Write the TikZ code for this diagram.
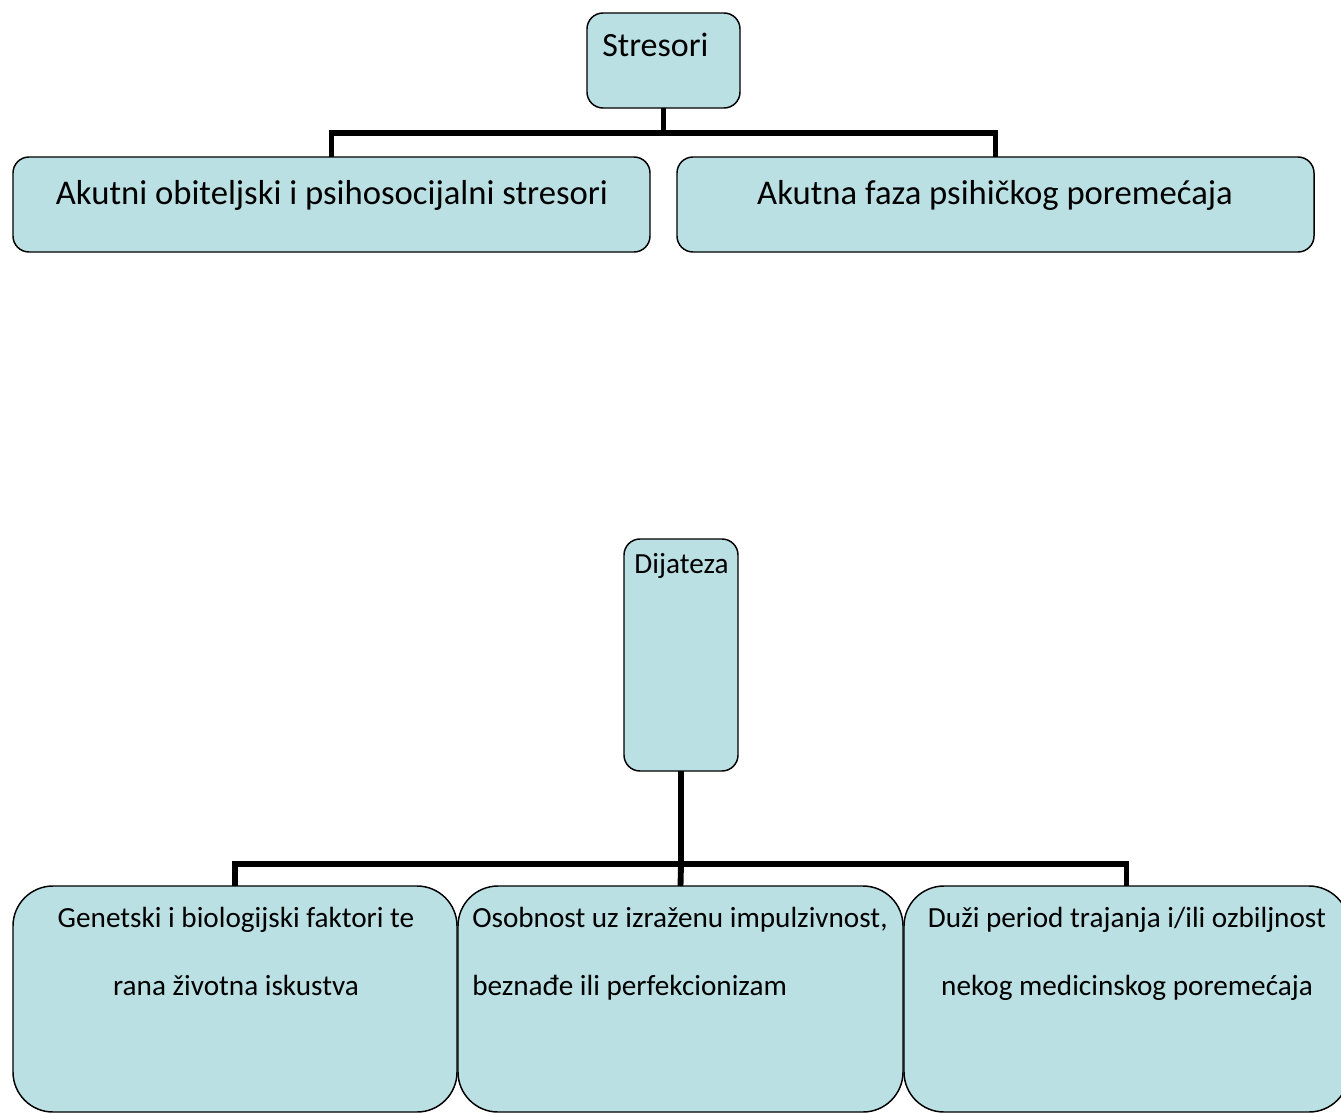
\documentclass[tikz,border=0pt]{standalone}
\usepackage{fontspec}
\setmainfont{Carlito}
\usetikzlibrary{calc}
\definecolor{boxfill}{RGB}{186,224,228}
\tikzset{
  box/.style={draw=black, fill=boxfill, line width=1.1pt, inner sep=0pt, outer sep=0pt},
  smallbox/.style={box, rounded corners=12pt},
  bigbox/.style={box, rounded corners=30pt},
  conn/.style={draw=black, line width=4.4pt, line join=miter},
  bigtxt/.style={font=\fontsize{26}{30}\selectfont, inner sep=0pt},
  stxt/.style={font=\fontsize{25.5}{30}\selectfont, inner sep=0pt},
  smalltxt/.style={font=\fontsize{21.9}{26}\selectfont, inner sep=0pt}
}
\begin{document}
\begin{tikzpicture}[x=0.75pt, y=-0.75pt]
\useasboundingbox (0,0) rectangle (1341,1113);
% top part
\node[smallbox, minimum width=153*0.75pt, minimum height=95*0.75pt] (stres) at (663.5,60.5) {};
\node[smallbox, minimum width=637*0.75pt, minimum height=95*0.75pt] (akut) at (331.5,204.5) {};
\node[smallbox, minimum width=637*0.75pt, minimum height=95*0.75pt] (faza) at (995.5,204.5) {};
\node[stxt, anchor=base west] (tstres) at ($(stres.north west)+(15,43)$) {Stresori};
\node[bigtxt, anchor=base] (takut) at ($(akut.north)+(0.5,47)$) {Akutni obiteljski i psihosocijalni stresori};
\node[bigtxt, anchor=base] (tfaza) at ($(faza.north)+(-0.5,47)$) {Akutna faza psihičkog poremećaja};
\coordinate (j1) at (663.5,133);
\draw[conn] (stres.south) -- (j1);
\draw[conn] (akut.north) |- (j1) -| (faza.north);
% bottom part
\node[smallbox, minimum width=114*0.75pt, minimum height=232*0.75pt] (dij) at (681,655) {};
\node[smalltxt, anchor=base] (tdij) at ($(dij.north)+(0.5,34)$) {Dijateza};
\node[bigbox, minimum width=444*0.75pt, minimum height=226*0.75pt] (g1) at (235,999) {};
\node[bigbox, minimum width=445*0.75pt, minimum height=226*0.75pt] (g2) at (680.5,999) {};
\node[bigbox, minimum width=445*0.75pt, minimum height=226*0.75pt] (g3) at (1126.5,999) {};
\coordinate (j2) at (681,864);
\draw[conn] (dij.south) -- (j2);
\draw[conn] (g1.north) |- (j2) -| (g3.north);
\draw[conn] (j2) -- (g2.north);
\node[smalltxt, anchor=base] (t1a) at ($(g1.north)+(1,41)$) {Genetski i biologijski faktori te};
\node[smalltxt, anchor=base] (t1b) at ($(g1.north)+(1,109)$) {rana životna iskustva};
\node[smalltxt, anchor=base west] (t2a) at ($(g2.north west)+(14,41)$) {Osobnost uz izraženu impulzivnost,};
\node[smalltxt, anchor=base west] (t2b) at ($(g2.north west)+(14,109)$) {beznađe ili perfekcionizam};
\node[smalltxt, anchor=base] (t3a) at ($(g3.north)+(0.5,41)$) {Duži period trajanja i/ili ozbiljnost};
\node[smalltxt, anchor=base] (t3b) at ($(g3.north)+(0.5,109)$) {nekog medicinskog poremećaja};
\end{tikzpicture}
\end{document}
